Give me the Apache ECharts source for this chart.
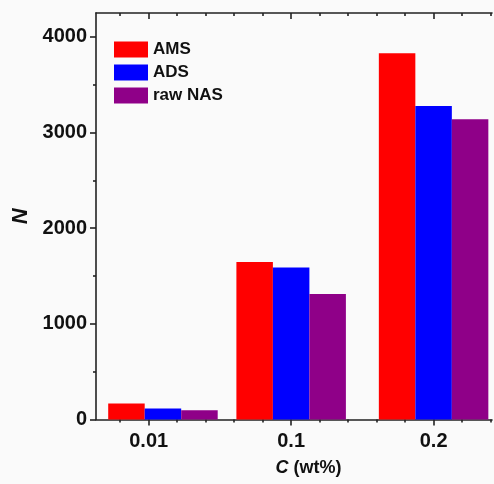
<!DOCTYPE html>
<html>
<head>
<meta charset="utf-8">
<script src="https://cdn.jsdelivr.net/npm/echarts@6/dist/echarts.min.js"></script>
<style>html,body{margin:0;padding:0;background:#fafafa;}#c{width:494px;height:484px;}</style>
</head>
<body>
<div id="c"></div>
<script>
var categories = ['0.01', '0.1', '0.2'];
var groupPositions = [1.1, 2, 3];
var amsValues = [168, 1646, 3829];
var adsValues = [115, 1589, 3277];
var rawNasValues = [97, 1313, 3140];
var seriesNames = ['AMS', 'ADS', 'raw NAS'];
var yMajorTicks = [0, 1000, 2000, 3000, 4000];
var yMinorTicks = [500, 1500, 2500, 3500];
var xMajorTicks = [1, 2, 3];
var xMinorTicks = [0.8, 1.2, 1.4, 1.6, 1.8, 2.2, 2.4, 2.6, 2.8, 3.2, 3.4];

var FONT = "'Liberation Sans', Arial, sans-serif";
var lineStyle = {color: '#222', width: 1.6};
var xMin = 0.63, xMax = 3.41, yMin = 0, yMax = 4250;

function pairs(vals) {
  return vals.map(function (v, i) { return [groupPositions[i], v]; });
}

function xAx(pos, ticks, len, inside, showLine, labels) {
  return {
    type: 'value', position: pos, min: xMin, max: xMax,
    axisLine: {show: showLine, onZero: false, lineStyle: lineStyle},
    axisTick: {show: true, inside: inside, length: len, customValues: ticks, lineStyle: lineStyle},
    axisLabel: labels ? {
      show: true, customValues: xMajorTicks, margin: 12,
      fontFamily: FONT, fontWeight: 'bold', fontSize: 20, color: '#111',
      formatter: function (v) { return categories[Math.round(v) - 1]; }
    } : {show: false},
    splitLine: {show: false}
  };
}
function yAx(ticks, len, showLine, labels) {
  return {
    type: 'value', position: 'left', min: yMin, max: yMax,
    axisLine: {show: showLine, onZero: false, lineStyle: lineStyle},
    axisTick: {show: true, inside: false, length: len, customValues: ticks, lineStyle: lineStyle},
    axisLabel: labels ? {
      show: true, customValues: yMajorTicks, margin: 9,
      fontFamily: FONT, fontWeight: 'bold', fontSize: 20, color: '#111',
      formatter: function (v) { return String(v); }
    } : {show: false},
    splitLine: {show: false}
  };
}

var xMain = xAx('bottom', xMajorTicks, 6, false, true, true);
xMain.name = '{i|C} (wt%)';
xMain.nameLocation = 'middle';
xMain.nameGap = 40;
xMain.nameTextStyle = {
  fontFamily: FONT, fontWeight: 'bold', fontSize: 18, color: '#111',
  padding: [0, 0, 0, 29],
  rich: {i: {fontFamily: FONT, fontWeight: 'bold', fontStyle: 'italic', fontSize: 18, color: '#111'}}
};

var yMain = yAx(yMajorTicks, 6, true, true);
yMain.name = 'N';
yMain.nameLocation = 'middle';
yMain.nameGap = 62;
yMain.nameRotate = 90;
yMain.nameTextStyle = {fontFamily: FONT, fontWeight: 'bold', fontStyle: 'italic', fontSize: 22, color: '#111'};

var colors = ['#ff0000', '#0000ff', '#8f0088'];
var valueSets = [amsValues, adsValues, rawNasValues];

var chart = echarts.init(document.getElementById('c'), null, {renderer: 'canvas'});
chart.setOption({
  backgroundColor: '#fafafa',
  animation: false,
  grid: {left: 96, right: 2, top: 13, bottom: 64.5, containLabel: false},
  legend: {
    orient: 'vertical', left: 109, top: 36, itemWidth: 34, itemHeight: 16, itemGap: 6,
    icon: 'rect', data: seriesNames,
    textStyle: {fontFamily: FONT, fontWeight: 'bold', fontSize: 17, color: '#111'}
  },
  xAxis: [
    xMain,
    xAx('bottom', xMinorTicks, 3, false, false, false),
    xAx('top', xMajorTicks, 6, true, true, false),
    xAx('top', xMinorTicks, 3, true, false, false)
  ],
  yAxis: [
    yMain,
    yAx(yMinorTicks, 3, false, false)
  ],
  series: valueSets.map(function (vals, i) {
    return {
      name: seriesNames[i], type: 'bar', xAxisIndex: 0, yAxisIndex: 0,
      barWidth: 36.5, barGap: '0%',
      itemStyle: {color: colors[i]},
      data: pairs(vals)
    };
  })
});
</script>
</body>
</html>
